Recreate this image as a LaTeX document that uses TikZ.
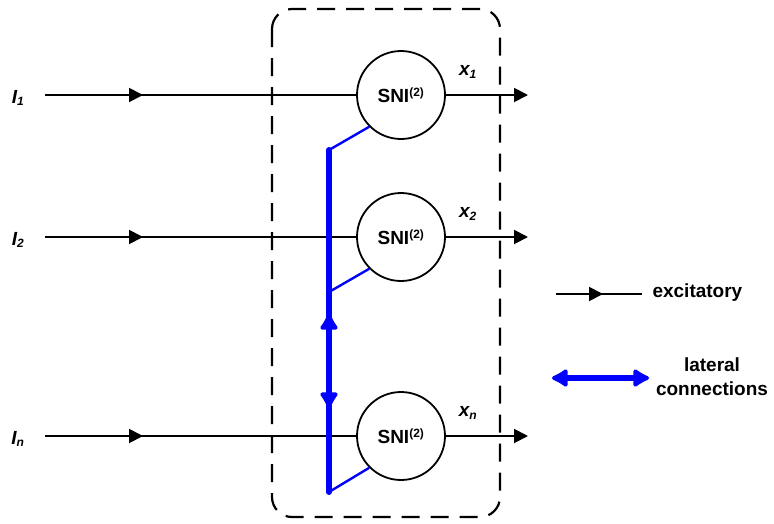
\documentclass[tikz,border=0pt]{standalone}
\usepackage{fontspec}
\setmainfont{Liberation Sans}
\usetikzlibrary{arrows.meta,decorations.markings}
\begin{document}
\begin{tikzpicture}[x=1pt,y=-1pt,
  wire/.style={line width=1.9pt, black},
  neuron/.style={circle, draw, line width=1.8pt, minimum size=88pt, inner sep=0pt,
    font=\fontsize{19}{22}\selectfont\bfseries},
  lbl/.style={font=\fontsize{19}{22}\selectfont\bfseries\itshape},
  leg/.style={font=\fontsize{19}{24}\selectfont\bfseries, align=center},
  mytip/.tip={Triangle[length=14pt,width=14pt]},
  inarrow/.style={postaction={decorate}, decoration={markings,
     mark=at position 98pt with {\arrow{mytip}}}},
  bus/.style={blue, line width=6pt},
  link/.style={blue, line width=2.4pt},
  btip/.tip={Latex[length=19pt,width=22pt,round]},
  box/.style={draw, line width=2.2pt, dash pattern=on 18pt off 11pt, rounded corners=20pt}
]
\useasboundingbox (0,0) rectangle (774,523);
% dashed module box
\draw[box] (272,9) rectangle (500,517);
% neurons
\node[neuron] (n1) at (401,95) {SNI\textsuperscript{\fontsize{12}{14}\selectfont(2)}};
\node[neuron] (n2) at (401,237) {SNI\textsuperscript{\fontsize{12}{14}\selectfont(2)}};
\node[neuron] (n3) at (401,436) {SNI\textsuperscript{\fontsize{12}{14}\selectfont(2)}};
% input labels
\node[lbl] (i1) at (18,98) {I\textsubscript{\fontsize{12}{14}\selectfont 1}};
\node[lbl] (i2) at (18,240) {I\textsubscript{\fontsize{12}{14}\selectfont 2}};
\node[lbl] (i3) at (18,439) {I\textsubscript{\fontsize{12}{14}\selectfont n}};
% input coordinates
\coordinate (a1) at (45,95);
\coordinate (a2) at (45,237);
\coordinate (a3) at (45,436);
\draw[wire, inarrow] (a1) -- (n1.west);
\draw[wire, inarrow] (a2) -- (n2.west);
\draw[wire, inarrow] (a3) -- (n3.west);
% outputs
\coordinate (o1) at (528,95);
\coordinate (o2) at (528,237);
\coordinate (o3) at (528,436);
\draw[wire, -{mytip}] (n1.east) -- (o1);
\draw[wire, -{mytip}] (n2.east) -- (o2);
\draw[wire, -{mytip}] (n3.east) -- (o3);
\node[lbl] (x1) at (468,72) {x\textsubscript{\fontsize{12}{14}\selectfont 1}};
\node[lbl] (x2) at (468,214) {x\textsubscript{\fontsize{12}{14}\selectfont 2}};
\node[lbl] (x3) at (468,413) {x\textsubscript{\fontsize{12}{14}\selectfont n}};
% lateral bus
\coordinate (bt) at (329,150);
\coordinate (bm) at (329,292);
\coordinate (bb) at (329,492);
\coordinate (bu) at (329,314);
\coordinate (bd) at (329,408);
\coordinate (bu0) at (329,345);
\coordinate (bd0) at (329,377);
\draw[bus, line cap=round] (bt) -- (bb);
\draw[bus, -{btip}] (bu0) -- (bu);
\draw[bus, -{btip}] (bd0) -- (bd);
\draw[link] (bt) -- (n1.225);
\draw[link] (bm) -- (n2.225);
\draw[link] (bb) -- (n3.225);
% legend
\coordinate (e1) at (556,294);
\coordinate (e2) at (642,294);
\draw[wire, postaction={decorate}, decoration={markings,
   mark=at position 47pt with {\arrow{mytip}}}] (e1) -- (e2);
\node[leg, anchor=west] (ex) at (649,293) {excitatory};
\coordinate (l1) at (552,378);
\coordinate (l2) at (649,378);
\draw[bus, {btip}-{btip}] (l1) -- (l2);
\node[leg] (lat) at (712,377) {lateral\\connections};
\end{tikzpicture}
\end{document}
